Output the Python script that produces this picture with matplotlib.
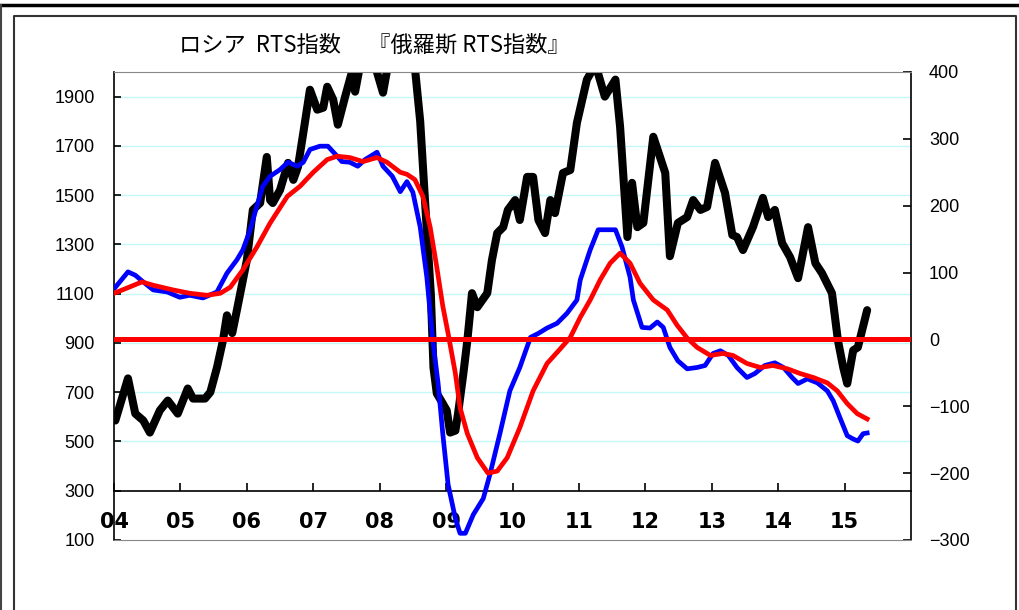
import matplotlib
matplotlib.use('Agg')
import matplotlib.pyplot as plt
from matplotlib.lines import Line2D

# RTS index (left axis), points as (decimal year, value)
rts_years = [2004.02, 2004.21, 2004.32, 2004.44, 2004.54, 2004.69, 2004.81, 2004.96,
             2005.11, 2005.19, 2005.37, 2005.45, 2005.55, 2005.64, 2005.70, 2005.78,
             2005.85, 2006.00, 2006.09, 2006.20, 2006.30, 2006.35, 2006.39, 2006.50,
             2006.62, 2006.70, 2006.77, 2006.85, 2006.95, 2007.06, 2007.15, 2007.21,
             2007.30, 2007.37, 2007.48, 2007.58, 2007.63, 2007.70, 2007.85, 2008.05,
             2008.16, 2008.30, 2008.40, 2008.50, 2008.61, 2008.70, 2008.77, 2008.81,
             2008.86, 2008.95, 2009.01, 2009.06, 2009.14, 2009.18, 2009.26, 2009.32,
             2009.39, 2009.47, 2009.62, 2009.69, 2009.77, 2009.86, 2009.93, 2010.04,
             2010.11, 2010.22, 2010.31, 2010.39, 2010.49, 2010.57, 2010.64, 2010.76,
             2010.87, 2010.97, 2011.12, 2011.25, 2011.39, 2011.55, 2011.62, 2011.73,
             2011.80, 2011.88, 2011.97, 2012.12, 2012.30, 2012.37, 2012.49, 2012.63,
             2012.72, 2012.83, 2012.93, 2013.05, 2013.20, 2013.31, 2013.38, 2013.47,
             2013.62, 2013.77, 2013.85, 2013.95, 2014.06, 2014.18, 2014.30, 2014.45,
             2014.56, 2014.66, 2014.81, 2014.90, 2014.98, 2015.04, 2015.13, 2015.20,
             2015.34]
rts_values = [585, 756, 613, 585, 536, 626, 666, 613,
              715, 674, 674, 700, 800, 910, 1012, 940,
              1033, 1236, 1440, 1468, 1655, 1480, 1468, 1521,
              1631, 1562, 1615, 1753, 1928, 1847, 1855, 1940,
              1888, 1786, 1900, 1998, 1920, 2020, 2100, 1916,
              2080, 2250, 2350, 2100, 1800, 1400, 1100, 800,
              695, 654, 626, 536, 544, 613, 776, 910,
              1102, 1045, 1102, 1236, 1346, 1370, 1440, 1480,
              1399, 1574, 1574, 1399, 1346, 1480, 1427, 1590,
              1602, 1794, 1969, 2030, 1900, 1969, 1777, 1330,
              1550, 1370, 1387, 1737, 1590, 1252, 1387, 1411,
              1480, 1440, 1452, 1631, 1509, 1338, 1330, 1277,
              1370, 1489, 1411, 1440, 1305, 1248, 1163, 1370,
              1224, 1183, 1102, 910, 800, 735, 870, 882,
              1033]

# blue series (right axis)
blue_years = [2004.02, 2004.21, 2004.32, 2004.44, 2004.59, 2004.80, 2004.99, 2005.14,
              2005.34, 2005.55, 2005.70, 2005.85, 2005.94, 2006.05, 2006.15, 2006.24,
              2006.35, 2006.50, 2006.62, 2006.76, 2006.85, 2006.95, 2007.10, 2007.22,
              2007.36, 2007.43, 2007.55, 2007.67, 2007.78, 2007.96, 2008.05, 2008.19,
              2008.31, 2008.41, 2008.50, 2008.61, 2008.71, 2008.80, 2008.88, 2008.95,
              2009.03, 2009.14, 2009.21, 2009.29, 2009.41, 2009.56, 2009.66, 2009.81,
              2009.96, 2010.11, 2010.27, 2010.39, 2010.52, 2010.67, 2010.82, 2010.97,
              2011.02, 2011.17, 2011.29, 2011.47, 2011.55, 2011.65, 2011.77, 2011.82,
              2011.95, 2012.07, 2012.18, 2012.27, 2012.37, 2012.49, 2012.63, 2012.78,
              2012.90, 2013.02, 2013.13, 2013.25, 2013.38, 2013.53, 2013.65, 2013.80,
              2013.95, 2014.08, 2014.21, 2014.30, 2014.44, 2014.59, 2014.74, 2014.83,
              2014.93, 2015.04, 2015.13, 2015.20, 2015.28, 2015.34]
blue_values = [78, 101, 96, 86, 74, 71, 63, 66,
               62, 71, 99, 119, 134, 164, 199, 229,
               244, 254, 265, 259, 265, 284, 289, 289,
               274, 266, 265, 259, 269, 280, 259, 244,
               221, 236, 220, 168, 93, -2, -66, -141,
               -217, -268, -290, -290, -262, -238, -202, -141,
               -77, -42, 3, 9, 17, 24, 39, 59,
               89, 134, 164, 164, 164, 138, 93, 59,
               18, 17, 26, 18, -12, -32, -44, -42,
               -39, -21, -17, -24, -42, -57, -51, -39,
               -35, -42, -57, -66, -59, -65, -77, -92,
               -117, -144, -149, -152, -141, -140]

# red series, smoothed (right axis)
red_years = [2004.00, 2004.20, 2004.42, 2004.59, 2004.89, 2005.14, 2005.40, 2005.60,
             2005.75, 2005.94, 2006.15, 2006.35, 2006.61, 2006.80, 2007.00, 2007.21,
             2007.36, 2007.55, 2007.75, 2007.96, 2008.11, 2008.31, 2008.41, 2008.53,
             2008.65, 2008.76, 2008.86, 2008.95, 2009.03, 2009.14, 2009.21, 2009.32,
             2009.47, 2009.63, 2009.77, 2009.92, 2010.11, 2010.31, 2010.52, 2010.72,
             2010.87, 2011.02, 2011.17, 2011.32, 2011.47, 2011.62, 2011.77, 2011.92,
             2012.12, 2012.33, 2012.48, 2012.63, 2012.78, 2012.98, 2013.17, 2013.32,
             2013.53, 2013.73, 2013.92, 2014.14, 2014.33, 2014.53, 2014.74, 2014.89,
             2015.04, 2015.19, 2015.34]
red_values = [69, 77, 86, 81, 74, 69, 66, 69,
              78, 104, 138, 174, 214, 229, 250, 269,
              274, 272, 266, 272, 265, 250, 247, 239,
              214, 168, 108, 50, 9, -51, -102, -141,
              -177, -200, -197, -177, -132, -77, -36, -14,
              3, 33, 59, 89, 114, 129, 114, 84,
              59, 44, 21, 2, -12, -24, -21, -24,
              -36, -42, -39, -44, -51, -57, -65, -77,
              -96, -111, -119]

year_ticks = list(range(2004, 2016))
year_labels = ['04', '05', '06', '07', '08', '09', '10', '11', '12', '13', '14', '15']
left_ticks = [100, 300, 500, 700, 900, 1100, 1300, 1500, 1700, 1900]
right_ticks = [-300, -200, -100, 0, 100, 200, 300, 400]

TITLE = 'ロシア  RTS指数　 『俄羅斯 RTS指数』'


def main():
    plt.rcParams['font.family'] = ['Liberation Sans', 'DejaVu Sans']

    fig = plt.figure(figsize=(10.19, 6.10), dpi=100)
    ax = fig.add_axes([0.1119, 0.1148, 0.7821, 0.7672])
    ax2 = ax.twinx()

    ax.set_xlim(2004, 2016)
    ax.set_ylim(100, 2000)
    ax2.set_ylim(-300, 400)

    # pale cyan grid lines
    for v in left_ticks:
        if v >= 500:
            ax.axhline(v, color='#c4f7f7', lw=1.0, zorder=0)

    ax.plot(rts_years, rts_values, color='black', lw=5.8,
            solid_joinstyle='round', solid_capstyle='round', zorder=3)
    ax2.plot(blue_years, blue_values, color='#0000ff', lw=3.4,
             solid_joinstyle='round', zorder=3)
    ax2.plot(red_years, red_values, color='#ff0000', lw=3.4,
             solid_joinstyle='round', zorder=4)
    ax2.axhline(0, color='#ff0000', lw=3.6, zorder=5)

    # left axis + x axis crossing at 300
    ax.spines['bottom'].set_position(('data', 300))
    ax.spines['top'].set_visible(False)
    ax.spines['right'].set_visible(False)
    ax.spines['left'].set_linewidth(1.2)
    ax.spines['bottom'].set_linewidth(1.2)

    ax.set_xticks(year_ticks)
    ax.set_xticklabels(year_labels, fontfamily='DejaVu Sans',
                       fontweight='bold', fontsize=15)
    ax.tick_params(axis='x', direction='in', length=6, width=1.2, pad=15)

    ax.set_yticks(left_ticks)
    ax.set_yticklabels([str(v) for v in left_ticks], fontsize=13)
    ax.tick_params(axis='y', direction='in', length=5, width=1.2, pad=14)

    ax2.spines['left'].set_visible(False)
    ax2.spines['right'].set_linewidth(1.2)
    ax2.spines['top'].set_color('#888888')
    ax2.spines['bottom'].set_color('#888888')
    ax2.set_yticks(right_ticks)
    ax2.set_yticklabels([str(v).replace('-', '\u2212') for v in right_ticks],
                        fontsize=13)
    ax2.tick_params(axis='y', direction='in', length=6, width=1.2, pad=13)

    fig.text(0.367, 0.926, TITLE, ha='center', va='center', fontsize=16,
             family=['Noto Sans CJK JP', 'DejaVu Sans'])

    # outer frame of the sheet
    fig.add_artist(Line2D([0, 1], [0.992, 0.992], color='black', lw=2.5))
    fig.add_artist(Line2D([0.001, 0.001], [0, 0.992], color='#444444', lw=1.5))
    fig.add_artist(Line2D([0.0137, 0.0137, 0.9975, 0.9975], [0, 0.9745, 0.9745, 0],
                          color='#333333', lw=1.5))

    fig.savefig('out.png', dpi=100)


if __name__ == '__main__':
    main()
